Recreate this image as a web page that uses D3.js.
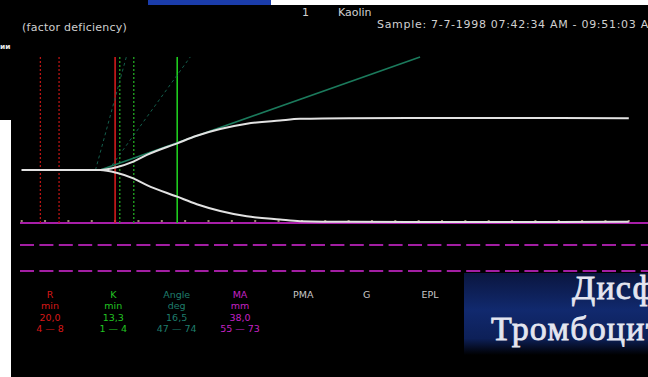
<!DOCTYPE html>
<html><head><meta charset="utf-8">
<script src="https://cdn.jsdelivr.net/npm/d3@7"></script>
<style>html,body{margin:0;padding:0;background:#000;overflow:hidden}svg{display:block}</style>
</head><body>
<script>
// Thromboelastogram, kaolin activated sample, factor deficiency
const timeMin     = [0, 16.8, 20.3, 23.9, 26.8, 33.3, 37.5, 42.5, 48.2, 55.3, 59.6, 70, 85, 100, 115, 130];
const amplitudeMm = [0, 0, 2.0, 6.1, 11.0, 19.5, 25.0, 29.9, 33.8, 36.2, 37.4, 37.9, 38.0, 38.0, 38.0, 37.8];
const rMin = 20.0, kMin = 13.3, angleDeg = 16.5, maMm = 38.0;
const rNormal = [4, 8];
const kNormal = [1, 4];
// angle tangent and normal-range angle guides: [time, half amplitude]
const angleTangent = [[16.8, 0], [85.3, 41.3]];
const angleNormalLines = [[[15.8, 0], [22.4, 41.3]], [[18.6, 0], [36.1, 41.3]]];
const tickTimes = d3.range(0, 131, 5);
const paramNames  = ["R", "K", "Angle", "MA", "PMA", "G", "EPL"];
const paramUnits  = ["min", "min", "deg", "mm", "", "", ""];
const paramValues = ["20,0", "13,3", "16,5", "38,0", "", "", ""];
const paramRanges = ["4 — 8", "1 — 4", "47 — 74", "55 — 73", "", "", ""];
const paramColors = ["#d81818", "#22c422", "#1f7d6c", "#c422c4", "#c8c8c8", "#c8c8c8", "#c8c8c8"];

const W = 648, H = 377;
const svg = d3.select("body").append("svg").attr("width", W).attr("height", H);
const defs = svg.append("defs");

svg.append("rect").attr("width", W).attr("height", H).attr("fill", "#000");

// surrounding slide fragments
svg.append("rect").attr("x", 148).attr("y", 0).attr("width", 123).attr("height", 5).attr("fill", "#1a3caa");
svg.append("rect").attr("x", 271).attr("y", 0).attr("width", 377).attr("height", 5).attr("fill", "#fff");
svg.append("rect").attr("x", 0).attr("y", 120).attr("width", 11).attr("height", 257).attr("fill", "#fff");
svg.append("text").attr("x", 0).attr("y", 49).attr("fill", "#e8e8e8")
  .attr("font-family", "DejaVu Sans").attr("font-weight", "bold").attr("font-size", 7.5).text("ии");

const x = d3.scaleLinear().domain([0, 130]).range([21.7, 628.8]);
const y = d3.scaleLinear().domain([0, 19]).range([170, 118]); // half amplitude, mm
const yBottom = 223;

const font = "DejaVu Sans";
const head = svg.append("g").attr("font-family", font).attr("font-size", 11).attr("fill", "#d0d0d0");
head.append("text").attr("x", 22).attr("y", 31).attr("letter-spacing", 0.25).text("(factor deficiency)");
head.append("text").attr("x", 302).attr("y", 16).text("1");
head.append("text").attr("x", 338).attr("y", 16).text("Kaolin");
head.append("text").attr("x", 377).attr("y", 28).attr("letter-spacing", 0.7)
  .text("Sample: 7-7-1998 07:42:34 AM - 09:51:03 AM");

// baseline frame lines
svg.append("line").attr("x1", 20).attr("x2", W).attr("y1", yBottom).attr("y2", yBottom)
  .attr("stroke", "#a81ea8").attr("stroke-width", 2);
[245, 271].forEach(yy => svg.append("line").attr("x1", 20).attr("x2", W).attr("y1", yy).attr("y2", yy)
  .attr("stroke", "#a21ea2").attr("stroke-width", 2).attr("stroke-dasharray", "14 5.4"));

// time ticks
svg.append("g").selectAll("rect").data(tickTimes).join("rect")
  .attr("x", d => x(d) - 1).attr("y", yBottom - 3).attr("width", 2).attr("height", 2)
  .attr("fill", "#9a8a70");

const vline = (t, color, dash, w) => svg.append("line")
  .attr("x1", x(t)).attr("x2", x(t)).attr("y1", y(41.3)).attr("y2", yBottom)
  .attr("stroke", color).attr("stroke-width", w).attr("stroke-dasharray", dash);

rNormal.forEach(t => vline(t, "#b81414", "2 2", 1.3));
vline(rMin, "#e01c1c", null, 1.5);
kNormal.forEach(k => vline(rMin + k, "#22a822", "2 2", 1.3));
vline(rMin + kMin, "#1ecc1e", null, 1.6);

const seg = d3.line().x(d => x(d[0])).y(d => y(d[1]));
angleNormalLines.forEach(l => svg.append("path").attr("d", seg(l)).attr("fill", "none")
  .attr("stroke", "#145e4c").attr("stroke-width", 1).attr("stroke-dasharray", "3 3"));
svg.append("path").attr("d", seg(angleTangent)).attr("fill", "none")
  .attr("stroke", "#1b7a5c").attr("stroke-width", 1.6);

// trace: upper and lower branches
const pts = timeMin.map((t, i) => [t, amplitudeMm[i] / 2]);
const trace = d3.line().x(d => x(d[0])).y(d => y(d[1])).curve(d3.curveMonotoneX);
svg.append("path").attr("d", trace(pts)).attr("fill", "none").attr("stroke", "#e2e2e2").attr("stroke-width", 2);
svg.append("path").attr("d", trace(pts.map(p => [p[0], -p[1]]))).attr("fill", "none")
  .attr("stroke", "#e2e2e2").attr("stroke-width", 2);

// parameter table
const col = d3.scalePoint().domain(paramNames).range([50, 430]);
const rows = [paramNames, paramUnits, paramValues, paramRanges];
const table = svg.append("g").attr("font-family", font).attr("font-size", 9.5).attr("text-anchor", "middle");
rows.forEach((row, r) => {
  table.append("g").selectAll("text").data(row).join("text")
    .attr("x", (d, i) => col(paramNames[i])).attr("y", 298 + r * 11.3)
    .attr("fill", (d, i) => paramColors[i]).text(d => d);
});

// slide title overlay
const g1 = defs.append("linearGradient").attr("id", "titleBg").attr("x1", 0).attr("x2", 0).attr("y1", 0).attr("y2", 1);
[[0, "#0a163f"], [0.45, "#11296e"], [0.8, "#0d2058"], [0.92, "#050c22"], [1, "#000"]].forEach(s =>
  g1.append("stop").attr("offset", s[0]).attr("stop-color", s[1]));
svg.append("rect").attr("x", 464).attr("y", 273).attr("width", 184).attr("height", 82).attr("fill", "url(#titleBg)");
const title = svg.append("g").attr("font-family", "Liberation Serif")
  .attr("fill", "#e4e6f0").attr("stroke", "#e4e6f0").attr("stroke-width", 0.8)
  .attr("font-size", 34).attr("letter-spacing", 1.2);
title.append("text").attr("x", 572).attr("y", 299).text("Дисфункция");
title.append("text").attr("x", 491).attr("y", 340).text("Тромбоцитопатия");
</script>
</body></html>
